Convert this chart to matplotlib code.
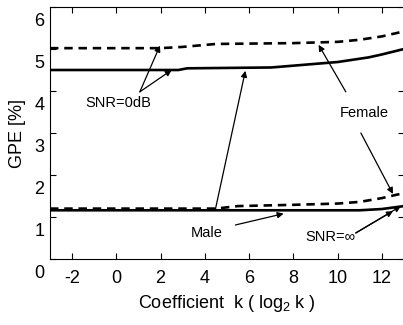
import matplotlib
matplotlib.use('Agg')
import matplotlib.pyplot as plt
from matplotlib.transforms import ScaledTranslation

plt.rcParams['font.family'] = ['Liberation Sans Narrow', 'Liberation Sans', 'DejaVu Sans']
plt.rcParams['mathtext.fontset'] = 'custom'
plt.rcParams['mathtext.rm'] = 'Liberation Sans'
plt.rcParams['axes.unicode_minus'] = False

# female, SNR = 0 dB (solid) and SNR = inf (dashed) -- upper pair
k_f0 = [-3, 2.8, 3.2, 7, 10, 11.4, 12, 13]
gpe_f0 = [4.5, 4.5, 4.54, 4.56, 4.69, 4.8, 4.87, 5.0]
k_f1 = [-3, 2, 3, 4.5, 8, 10, 11, 12, 13]
gpe_f1 = [5.02, 5.02, 5.05, 5.12, 5.14, 5.17, 5.22, 5.3, 5.42]

# male -- lower pair
k_m0 = [-3, 11, 12, 13]
gpe_m0 = [1.16, 1.16, 1.19, 1.26]
k_m1 = [-3, 4.5, 5.5, 8, 10, 11, 12, 13]
gpe_m1 = [1.2, 1.2, 1.26, 1.29, 1.32, 1.36, 1.45, 1.57]

xticks = [-2, 0, 2, 4, 6, 8, 10, 12]
yticks = [0, 1, 2, 3, 4, 5, 6]

fig = plt.figure(figsize=(4.03, 3.25), dpi=100)
ax = fig.add_axes([50/403, 66/325, 354/403, 252/325])

ax.plot(k_f0, gpe_f0, color='black', lw=1.9)
ax.plot(k_f1, gpe_f1, color='black', lw=1.9, dashes=(3.2, 2.2))
ax.plot(k_m0, gpe_m0, color='black', lw=1.9)
ax.plot(k_m1, gpe_m1, color='black', lw=1.9, dashes=(3.2, 2.2))

ax.set_xlim(-3, 13)
ax.set_ylim(0, 6)
ax.set_xticks(xticks)
ax.set_yticks(yticks)
ax.tick_params(direction='in', length=4, width=0.8, top=True, right=True,
               labelsize=13, pad=4)
ax.tick_params(axis='x', pad=8)
# the scanned figure has its y labels sitting a little below their ticks
for lab in ax.get_yticklabels():
    lab.set_transform(lab.get_transform() + ScaledTranslation(0, -0.13, fig.dpi_scale_trans))

ax.set_xlabel('Coefficient  k ( log$_2$ k )', fontsize=13, labelpad=4)
ax.set_ylabel('GPE [%]', fontsize=13, labelpad=6)

arrow = dict(arrowstyle='-|>', color='black', lw=0.9, mutation_scale=9,
             shrinkA=0, shrinkB=0)
tfs = 10.5

ax.text(0.1, 3.71, 'SNR=0dB', fontsize=tfs, ha='center', va='center')
ax.annotate('', xy=(1.97, 5.08), xytext=(1.06, 3.98), arrowprops=arrow)
ax.annotate('', xy=(2.5, 4.5), xytext=(1.06, 3.98), arrowprops=arrow)

ax.text(4.1, 0.62, 'Male', fontsize=tfs, ha='center', va='center')
ax.annotate('', xy=(5.83, 4.48), xytext=(4.47, 1.17), arrowprops=arrow)
ax.annotate('', xy=(7.56, 1.08), xytext=(5.38, 0.81), arrowprops=arrow)

ax.text(11.19, 3.48, 'Female', fontsize=tfs, ha='center', va='center')
ax.annotate('', xy=(9.14, 5.1), xytext=(10.37, 3.98), arrowprops=arrow)
ax.annotate('', xy=(12.5, 1.55), xytext=(11.05, 3.0), arrowprops=arrow)

ax.text(9.69, 0.52, 'SNR=\u221e', fontsize=tfs, ha='center', va='center')
ax.annotate('', xy=(12.5, 1.14), xytext=(10.82, 0.62), arrowprops=arrow)
ax.annotate('', xy=(12.86, 1.26), xytext=(10.82, 0.62), arrowprops=arrow)

fig.savefig('out.png', dpi=100)
